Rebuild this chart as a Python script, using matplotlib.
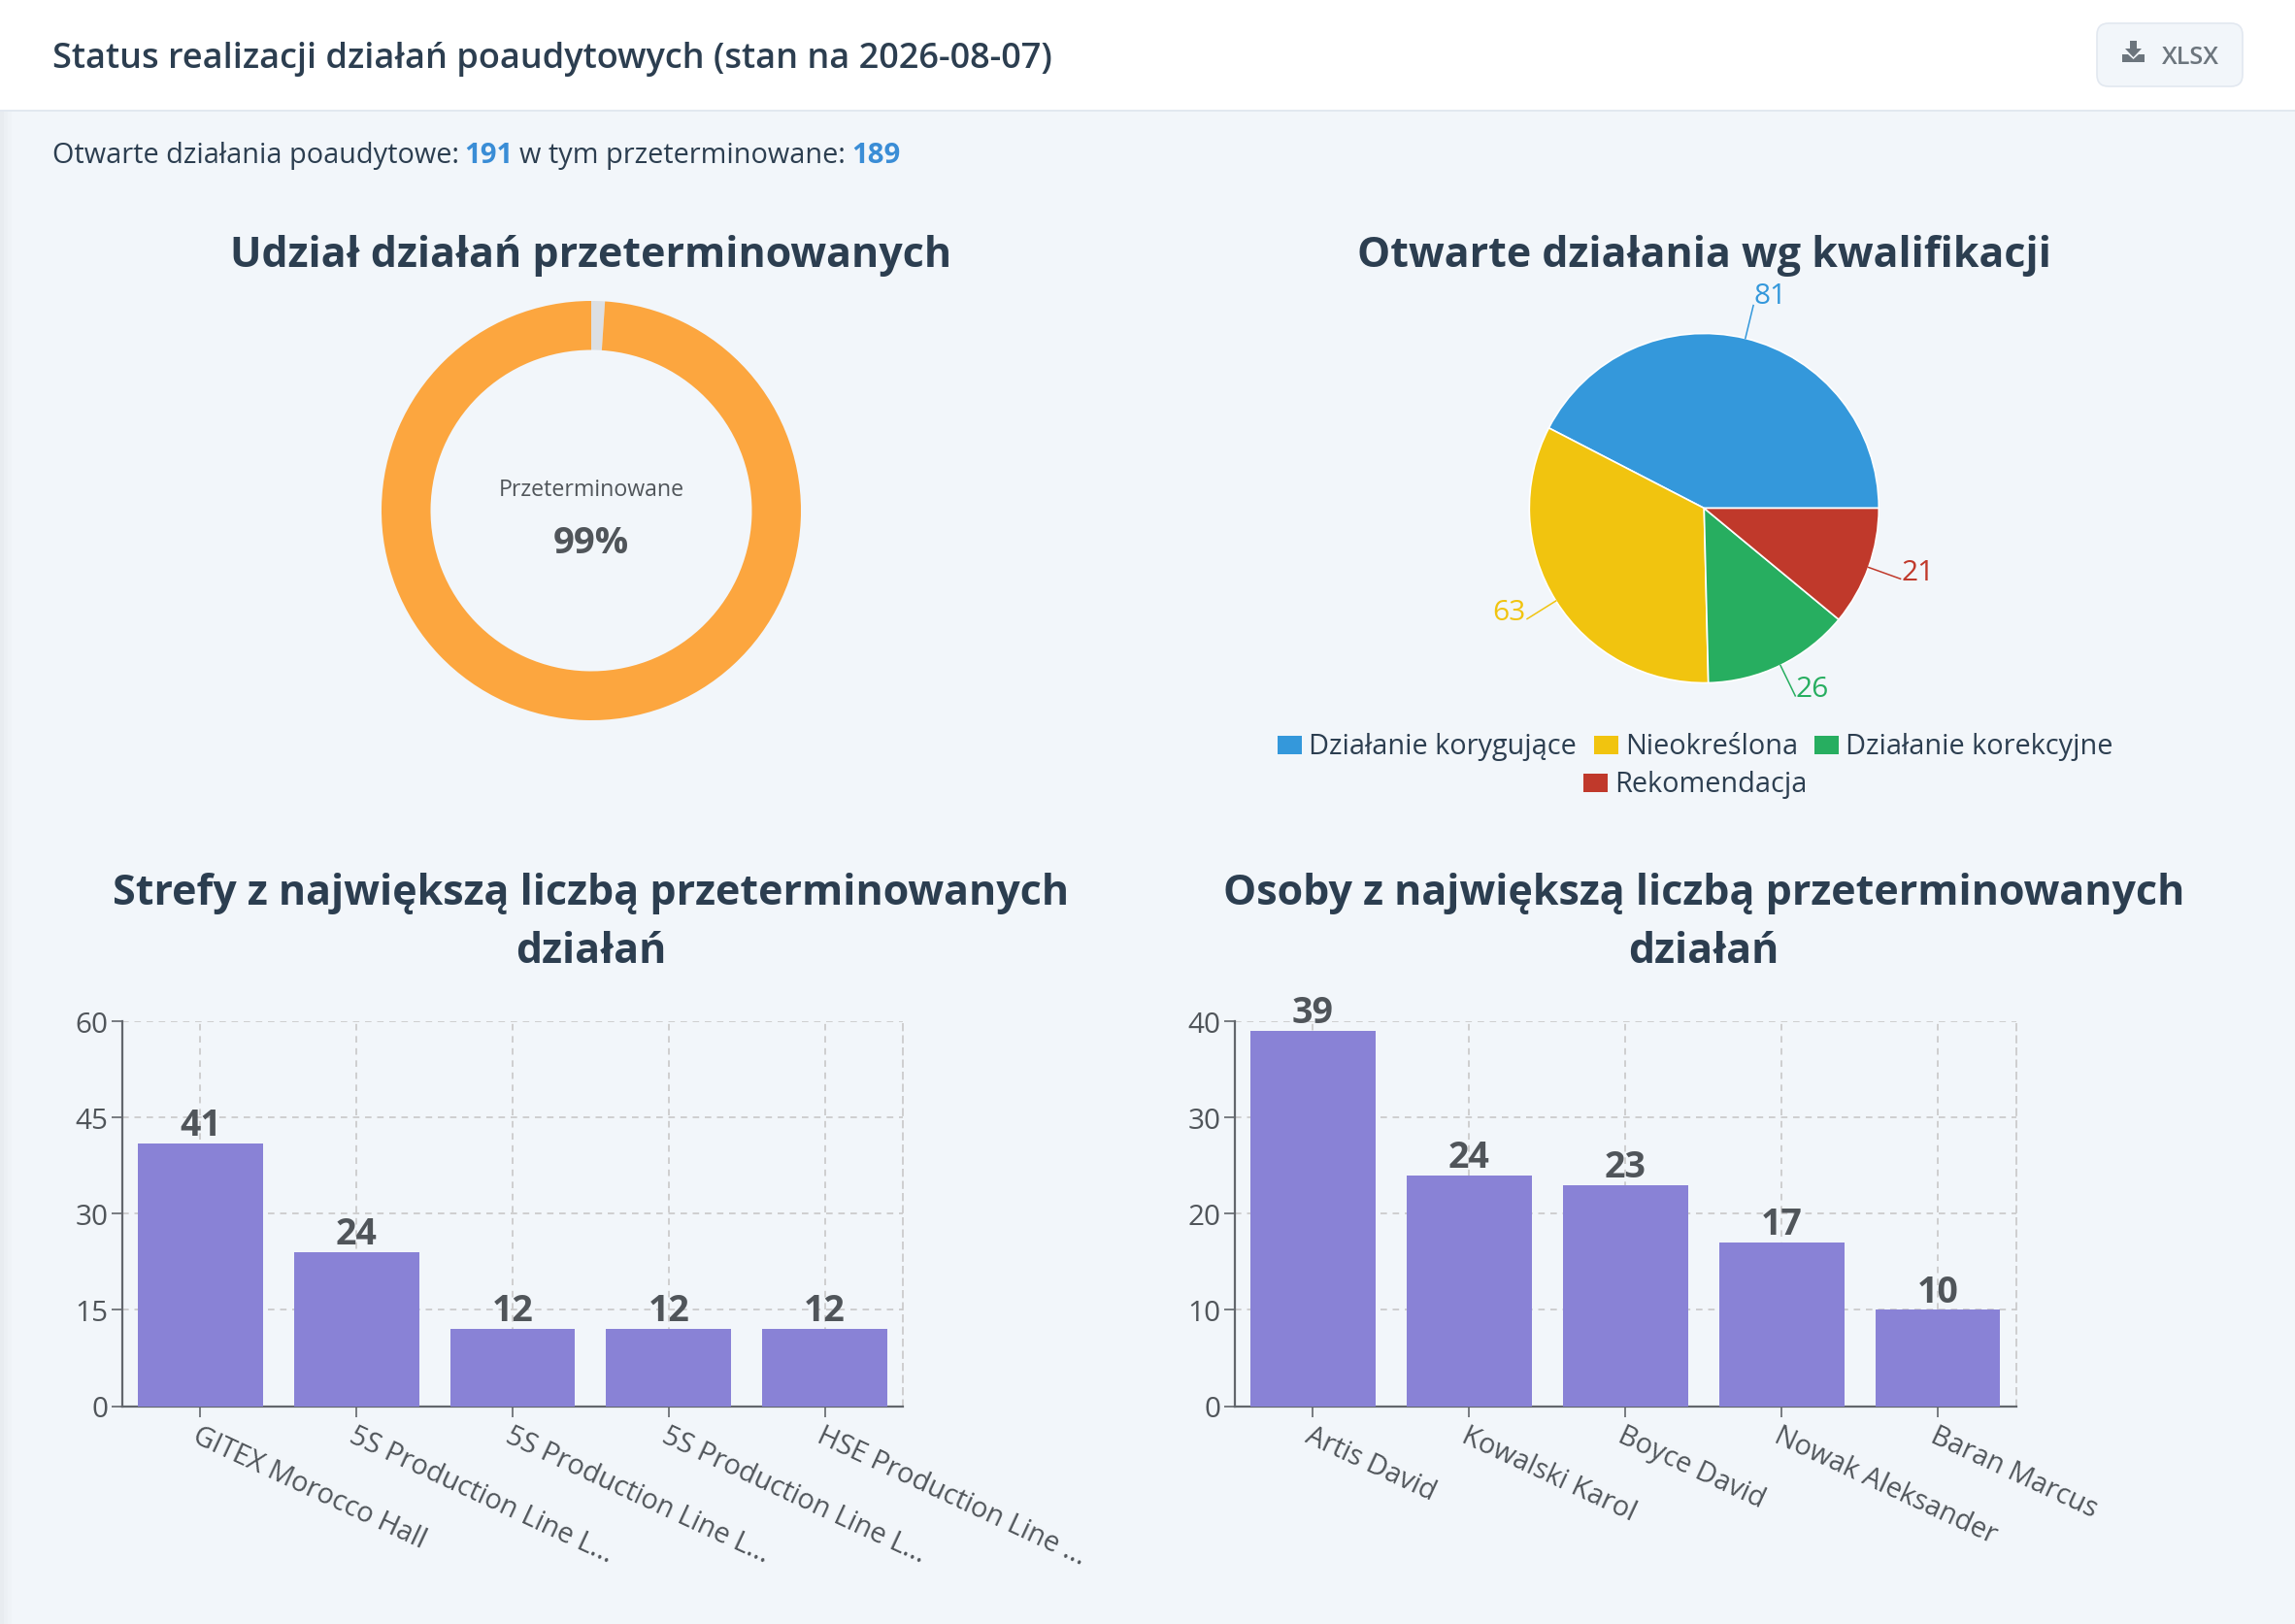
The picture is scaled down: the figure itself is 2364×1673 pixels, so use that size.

# status of post-audit actions dashboard
import matplotlib
matplotlib.use('Agg')
import numpy as np
from matplotlib import pyplot as plt
from matplotlib.patches import FancyBboxPatch, Polygon, Rectangle

W, H = 2364, 1674
FONT = 'Open Sans'
plt.rcParams['font.family'] = [FONT, 'DejaVu Sans']

# data
open_actions = 191
overdue_actions = 189
donut_colors = ['#dcdfe3', '#fca63f']

qual_names = ['Działanie korygujące', 'Nieokreślona', 'Działanie korekcyjne', 'Rekomendacja']
qual_values = [81, 63, 26, 21]
qual_colors = ['#3498db', '#f1c40f', '#27ae60', '#c0392b']

zone_names = ['GITEX Morocco Hall', '5S Production Line L...', '5S Production Line L...',
              '5S Production Line L...', 'HSE Production Line ...']
zone_values = [41, 24, 12, 12, 12]
zone_ticks = [0, 15, 30, 45, 60]

person_names = ['Artis David', 'Kowalski Karol', 'Boyce David', 'Nowak Aleksander', 'Baran Marcus']
person_values = [39, 24, 23, 17, 10]
person_ticks = [0, 10, 20, 30, 40]

BG = '#f2f6fa'
DARK = '#2c3e50'
GREY = '#50555a'
BAR = '#8982d6'
AXIS = '#62666c'
GRID = '#c8c8c8'


def px_axes(x0, y0, x1, y1):
    return fig.add_axes([x0 / W, 1 - y1 / H, (x1 - x0) / W, (y1 - y0) / H])


def bar_chart(x0, x1, names, values, ticks):
    ax = px_axes(x0, 1053, x1, 1449.5)
    ax.patch.set_alpha(0)
    xs = np.arange(len(values))
    ax.bar(xs, values, width=0.8, color=BAR, zorder=3)
    ax.set_xlim(-0.5, len(values) - 0.5)
    ax.set_ylim(ticks[0], ticks[-1])
    ax.set_yticks(ticks)
    ax.set_xticks(xs)
    ax.set_xticklabels(names, rotation=-25, ha='left', va='top', rotation_mode='anchor')
    ax.tick_params(axis='both', length=7.7, width=1.2, color=AXIS, labelcolor=GREY)
    ax.tick_params(axis='y', pad=3, labelsize=21.4)
    ax.tick_params(axis='x', pad=3.5, labelsize=20.7)
    ax.grid(True, color=GRID, linewidth=1.2, linestyle=(0, (4, 3.5)))
    ax.set_axisbelow(True)
    for side in ['left', 'bottom']:
        ax.spines[side].set_color(AXIS)
        ax.spines[side].set_linewidth(1.6)
    ax.spines['top'].set_visible(False)
    ax.spines['right'].set_color(GRID)
    ax.spines['right'].set_linewidth(1.2)
    ax.spines['right'].set_linestyle((0, (4, 3.5)))
    for i, v in enumerate(values):
        ax.annotate(str(v), (i, v), xytext=(0, 13.5), textcoords='offset points',
                    ha='center', va='center', fontsize=27, fontweight='bold', color=GREY, zorder=5)
    return ax


fig = plt.figure(figsize=(W / 100, H / 100), dpi=100, facecolor=BG)

# page furniture, in pixel coordinates
bg = fig.add_axes([0, 0, 1, 1])
bg.set_xlim(0, W)
bg.set_ylim(H, 0)
bg.axis('off')
bg.add_patch(Rectangle((0, 114), 4, H, color='#e8ecf0', lw=0))
bg.add_patch(Rectangle((4, 114), 4, H, color='#ecf0f4', lw=0))
bg.add_patch(Rectangle((8, 114), 4, H, color='#eff3f7', lw=0))
bg.add_patch(Rectangle((0, 0), W, 114, color='white', lw=0))
bg.add_patch(Rectangle((0, 114), W, 2, color='#e2e8f0', lw=0))

bg.text(54, 61, 'Status realizacji działań poaudytowych (stan na 2026-08-07)',
        fontsize=26, fontweight='semibold', color=DARK, va='center')

# XLSX button
bg.add_patch(FancyBboxPatch((2167, 32), 136, 51, boxstyle='round,pad=7,rounding_size=12',
                            fc=BG, ec='#e2e8f0', lw=1.2))
bg.add_patch(Polygon([[2194, 43], [2201, 43], [2201, 51], [2206, 51], [2197.5, 60], [2189, 51], [2194, 51]],
                     fc='#6c757d', lw=0))
bg.add_patch(Polygon([[2186, 57], [2192, 57], [2197.5, 62], [2203, 57], [2209, 57], [2209, 65], [2186, 65]],
                     fc='#6c757d', lw=0))
bg.text(2227, 59, 'XLSX', fontsize=18.2, fontweight='semibold', color='#6c757d', va='center')

bg.text(54, 160, 'Otwarte działania poaudytowe:', fontsize=20.8, color=DARK, va='center')
bg.text(478, 160, str(open_actions), fontsize=21.2, fontweight='bold', color='#3a8dd6', va='center')
bg.text(535, 160, 'w tym przeterminowane:', fontsize=20.8, color=DARK, va='center')
bg.text(877, 160, str(overdue_actions), fontsize=21.2, fontweight='bold', color='#3a8dd6', va='center')

for x, y, s in [(609, 263, 'Udział działań przeterminowanych'),
                (1755, 263, 'Otwarte działania wg kwalifikacji'),
                (609, 921, 'Strefy z największą liczbą przeterminowanych'),
                (609, 980, 'działań'),
                (1755, 921, 'Osoby z największą liczbą przeterminowanych'),
                (1755, 980, 'działań')]:
    bg.text(x, y, s, fontsize=31, fontweight='bold', color=DARK, ha='center', va='center')

# donut
ax_d = px_axes(609 - 260, 527 - 260, 609 + 260, 527 + 260)
ax_d.pie([open_actions - overdue_actions, overdue_actions], colors=donut_colors, radius=216,
         startangle=90, counterclock=False, frame=False, wedgeprops={'width': 50.5, 'linewidth': 0})
ax_d.set_xlim(-260, 260)
ax_d.set_ylim(-260, 260)
ax_d.axis('off')
ax_d.text(0, 22, 'Przeterminowane', fontsize=16.7, color=GREY, ha='center', va='center')
ax_d.text(0, -33, '99%', fontsize=27.5, fontweight='bold', color=GREY, ha='center', va='center')

# pie
ax_p = px_axes(1755.3 - 260, 524.5 - 260, 1755.3 + 260, 524.5 + 260)
wedges, _ = ax_p.pie(qual_values, colors=qual_colors, radius=180, startangle=0, frame=False,
                     wedgeprops={'edgecolor': 'white', 'linewidth': 1.2})
ax_p.set_xlim(-260, 260)
ax_p.set_ylim(-260, 260)
ax_p.axis('off')
for w, v, c in zip(wedges, qual_values, qual_colors):
    a = np.deg2rad((w.theta1 + w.theta2) / 2)
    x1, y1 = 180 * np.cos(a), 180 * np.sin(a)
    x2, y2 = 215 * np.cos(a), 215 * np.sin(a)
    ax_p.plot([x1, x2], [y1, y2], color=c, lw=1.1, clip_on=False)
    right = np.cos(a) > 0
    ax_p.text(x2 + (0.5 if right else -1.5), y2 + 7 + 3 * max(0, np.sin(a)) ** 2, str(v), color=c,
              fontsize=21.5, ha='left' if right else 'right', va='center')

# pie legend
leg_x = [1316, 1642, 1869, 1631]
leg_y = [768.5, 768.5, 768.5, 807.5]
for x, y, name, c in zip(leg_x, leg_y, qual_names, qual_colors):
    bg.add_patch(Rectangle((x, y - 9.5), 25, 19, color=c, lw=0))
    bg.text(x + 32, y + 1, name, fontsize=20.75, color=DARK, va='center')

# bars
bar_chart(126, 930, zone_names, zone_values, zone_ticks)
bar_chart(1272, 2076.5, person_names, person_values, person_ticks)

fig.savefig('out.png', dpi=100, facecolor=BG)
